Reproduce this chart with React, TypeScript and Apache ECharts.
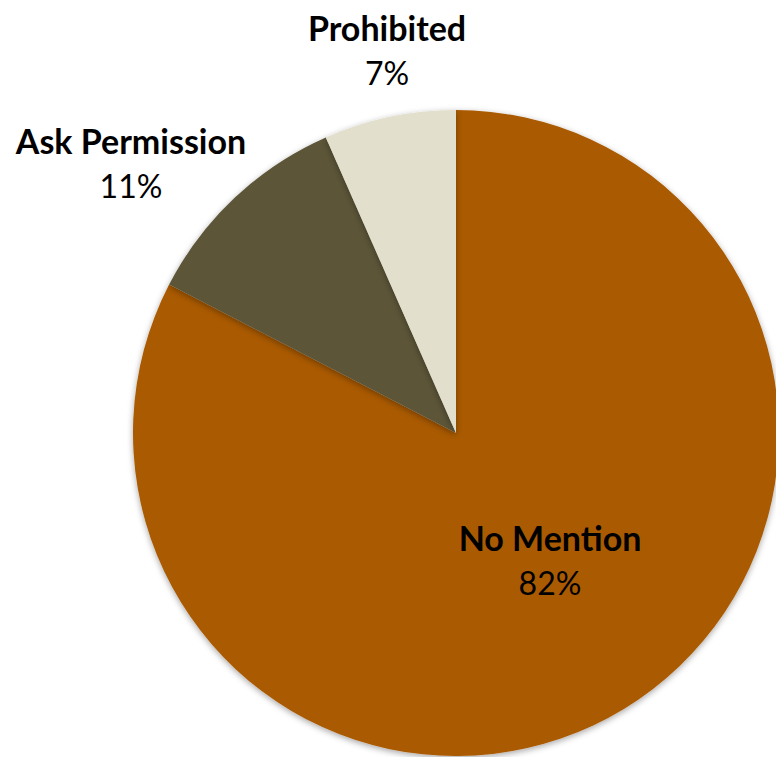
import React, { useEffect, useRef } from "react";
import * as echarts from "echarts";

const categories = ["No Mention", "Ask Permission", "Prohibited"];
const values = [82.6, 10.8, 6.6];
const percentLabels = ["82%", "11%", "7%"];
const colors = ["#AA5A00", "#5C5538", "#E2DFCC"];

const labelPos: [number, number][] = [
  [550, 560],
  [131, 163],
  [387, 50],
];

export default function App() {
  const ref = useRef<HTMLDivElement>(null);
  useEffect(() => {
    if (!ref.current) return;
    const chart = echarts.init(ref.current, undefined, { renderer: "svg" });
    const font = "Lato, 'Open Sans', sans-serif";
    chart.setOption({
      animation: false,
      series: [
        {
          type: "pie",
          center: [456, 433],
          radius: 323,
          startAngle: 90,
          clockwise: true,
          label: { show: false },
          labelLine: { show: false },
          emphasis: { disabled: true },
          itemStyle: {
            shadowBlur: 6,
            shadowColor: "rgba(0,0,0,0.35)",
            shadowOffsetY: 2,
          },
          data: categories.map((c, i) => ({
            name: c,
            value: values[i],
            itemStyle: { color: colors[i] },
          })),
        },
      ],
      graphic: categories.map((c, i) => ({
        type: "text",
        x: labelPos[i][0],
        y: labelPos[i][1],
        z: 100,
        style: {
          text: `{b|${c}}\n{v|${percentLabels[i]}}`,
          align: "center",
          verticalAlign: "middle",
          rich: {
            b: { fontFamily: font, fontSize: 34, fontWeight: "bold", fill: "#000", lineHeight: 45, align: "center" },
            v: { fontFamily: font, fontSize: 32, fill: "#000", lineHeight: 45, align: "center" },
          },
        },
      })),
    });
    return () => chart.dispose();
  }, []);
  return (
    <div
      ref={ref}
      style={{ position: "fixed", left: 0, top: 0, width: 776, height: 757, background: "#fff" }}
    />
  );
}
